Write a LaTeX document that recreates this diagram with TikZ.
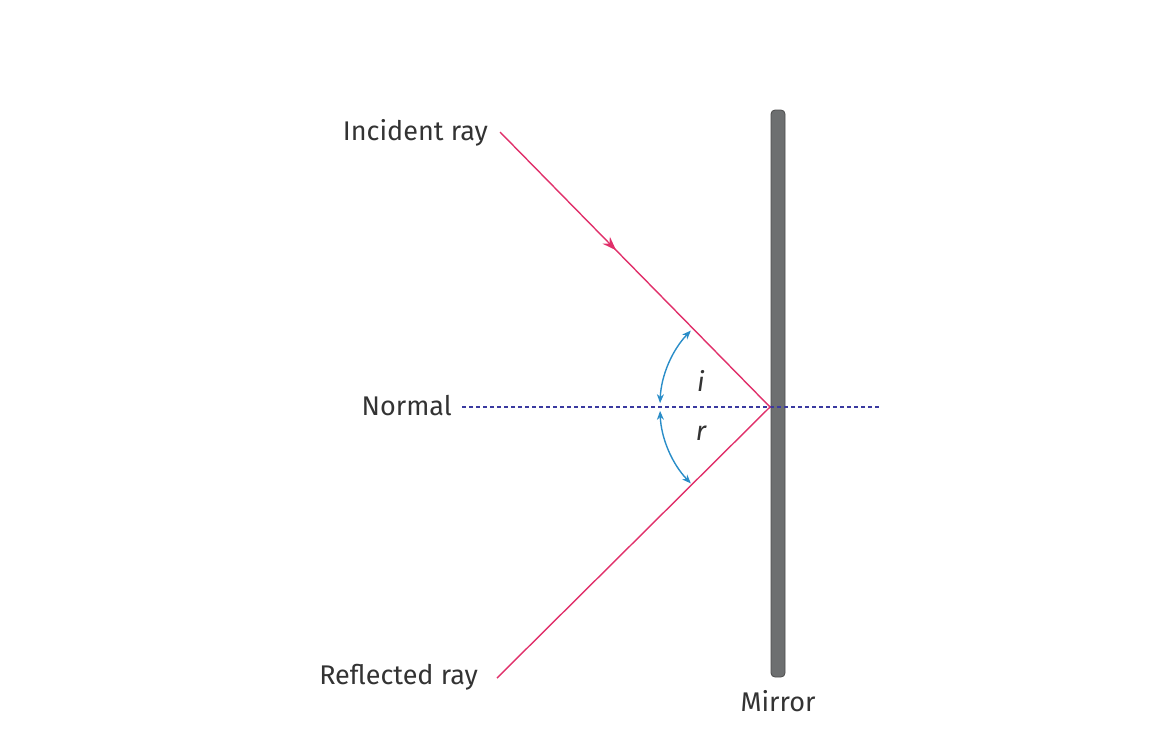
\documentclass[tikz,border=0pt]{standalone}
\usepackage{fontspec}
\setmainfont{Fira Sans}
\usetikzlibrary{arrows.meta,decorations.markings}
\definecolor{ray}{HTML}{E0306A}
\definecolor{arcc}{HTML}{2A8DC8}
\definecolor{norm}{HTML}{3A3AA0}
\definecolor{txt}{HTML}{333333}
\definecolor{mir}{HTML}{6D6F70}
\tikzset{lbl/.style={text=txt,font=\fontsize{27}{30}\selectfont,inner sep=0pt},
 raystyle/.style={draw=ray,line width=1.4pt},
 anglearc/.style={draw=arcc,line width=1.4pt,{Stealth[length=9pt,width=7pt]}-{Stealth[length=9pt,width=7pt]}}}
\begin{document}
\begin{tikzpicture}[x=1pt,y=-1pt]
\useasboundingbox (0,0) rectangle (1150,750);
\draw[fill=mir,draw=black!70,line width=0.8pt,rounded corners=4pt] (771,110) rectangle (785,677);
\coordinate (P) at (770,407);
\coordinate (A) at (500,132);
\coordinate (B) at (497,678);
\coordinate (N1) at (462,407);
\coordinate (N2) at (880,407);
\draw[norm,line width=1.2pt,dash pattern=on 4pt off 3pt] (N1) -- (N2);
\draw[raystyle,postaction={decorate},decoration={markings,mark=at position 0.43 with {\arrow{Stealth[length=14pt,width=10pt]}}}] (A) -- (P);
\draw[raystyle] (P) -- (B);
\draw[anglearc] (P) ++(136:110) arc[start angle=136,end angle=178,radius=110];
\draw[anglearc] (P) ++(182:110) arc[start angle=182,end angle=224,radius=110];
\node[lbl,anchor=east] (inc) at (488,133) {Incident ray};
\node[lbl,anchor=east] (nor) at (452,406) {Normal};
\node[lbl,anchor=east] (ref) at (478,677) {Reflected ray};
\node[lbl] (mirl) at (778,701) {Mirror};
\node[lbl] (i) at (701,381) {\itshape i};
\node[lbl] (r) at (701,433) {\itshape r};
\end{tikzpicture}
\end{document}
